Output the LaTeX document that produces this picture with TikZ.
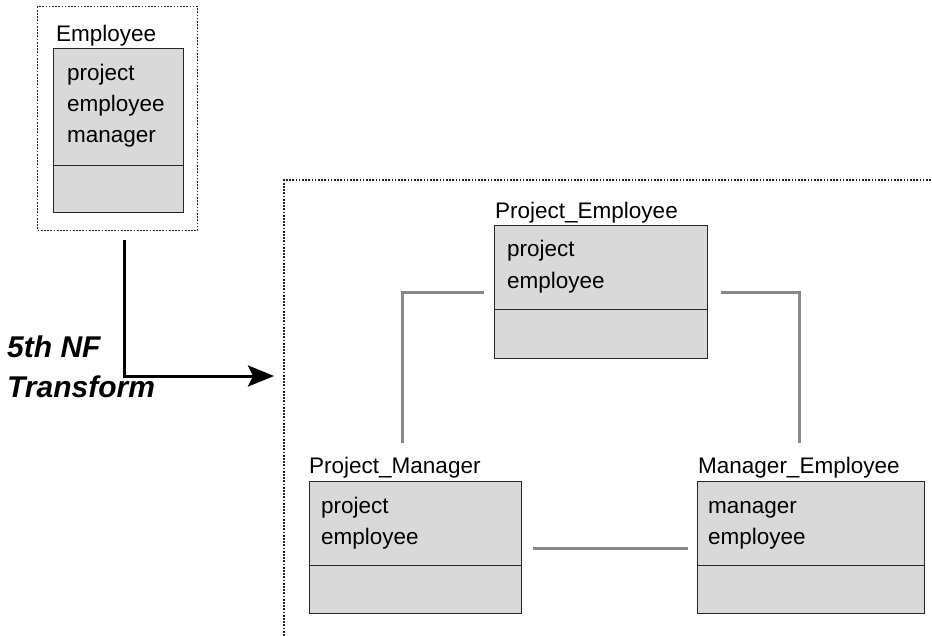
\documentclass[tikz,border=0pt]{standalone}
\usepackage{fontspec}
\setmainfont{Liberation Sans}
\usetikzlibrary{arrows.meta,calc}
\definecolor{boxfill}{HTML}{D9D9D9}
\definecolor{conngray}{HTML}{888888}
\definecolor{dotcol}{HTML}{222222}
\tikzset{
  frame/.style={draw=dotcol, line width=1.3pt, dash pattern=on 1.7pt off 1.5pt},
  tbox/.style={draw=black!85, fill=boxfill, line width=1.4pt, anchor=north west, inner sep=0pt},
  divline/.style={draw=black!85, line width=1.4pt},
  lbl/.style={anchor=base west, inner sep=0pt, font=\fontsize{22.5}{27}\selectfont},
  conn/.style={draw=conngray, line width=3pt},
  bigarrow/.style={draw=black, line width=3pt, -{Stealth[length=26pt,width=21pt,inset=5pt]}},
  ttl/.style={anchor=base west, inner sep=0pt, font=\fontsize{30}{36}\bfseries\itshape\selectfont}
}
\begin{document}
\begin{tikzpicture}[x=1pt,y=-1pt]
\useasboundingbox (0,0) rectangle (932,635);
% frames
\node[frame, anchor=north west, minimum width=160pt, minimum height=224pt, inner sep=0pt] (empframe) at (37,6) {};
\coordinate (fTop) at (284,180);
\coordinate (fRight) at (934,180);
\coordinate (fBot) at (284,637);
\draw[frame] (fRight) -- (fTop) -- (fBot);

% Employee
\node[lbl] (empT) at (56,41) {Employee};
\node[tbox, minimum width=130pt, minimum height=164pt] (emp) at (53,48) {};
\draw[divline] ($(emp.south west)+(0,-48)$) -- ($(emp.south east)+(0,-48)$);
\node[lbl] (e1) at (67,80) {project};
\node[lbl] (e2) at (67,111) {employee};
\node[lbl] (e3) at (67,142) {manager};

% Project_Employee
\node[lbl] (peT) at (495,218) {Project\_Employee};
\node[tbox, minimum width=213pt, minimum height=133pt] (pe) at (494,225) {};
\draw[divline] ($(pe.south west)+(0,-50)$) -- ($(pe.south east)+(0,-50)$);
\node[lbl] (pe1) at (507,256) {project};
\node[lbl] (pe2) at (507,288) {employee};

% Project_Manager
\node[lbl] (pmT) at (309,473) {Project\_Manager};
\node[tbox, minimum width=212pt, minimum height=132pt] (pm) at (309,481) {};
\draw[divline] ($(pm.south west)+(0,-49)$) -- ($(pm.south east)+(0,-49)$);
\node[lbl] (pm1) at (321,513) {project};
\node[lbl] (pm2) at (321,544) {employee};

% Manager_Employee
\node[lbl] (meT) at (698,473) {Manager\_Employee};
\node[tbox, minimum width=227pt, minimum height=132pt] (me) at (697,481) {};
\draw[divline] ($(me.south west)+(0,-49)$) -- ($(me.south east)+(0,-49)$);
\node[lbl] (me1) at (708,513) {manager};
\node[lbl] (me2) at (708,544) {employee};

% connectors
\coordinate (cL1) at ($(pe.north west)+(-10,67)$);
\coordinate (cL2) at (402,292);
\coordinate (cL3) at (402,443);
\draw[conn] (cL1) -- (cL2) -- (cL3);
\coordinate (cR1) at ($(pe.north east)+(13,67)$);
\coordinate (cR2) at (799,292);
\coordinate (cR3) at (799,443);
\draw[conn] (cR1) -- (cR2) -- (cR3);
\coordinate (cB1) at ($(pm.north east)+(11,67)$);
\coordinate (cB2) at ($(me.north west)+(-9,67)$);
\draw[conn] (cB1) -- (cB2);

% transform arrow
\coordinate (aS) at (124,240);
\coordinate (aC) at (124,376);
\coordinate (aE) at (274,376);
\draw[bigarrow] (aS) -- (aC) -- (aE);
\node[ttl] (t1) at (7,357) {5th NF};
\node[ttl] (t2) at (7,397) {Transform};
\end{tikzpicture}
\end{document}
